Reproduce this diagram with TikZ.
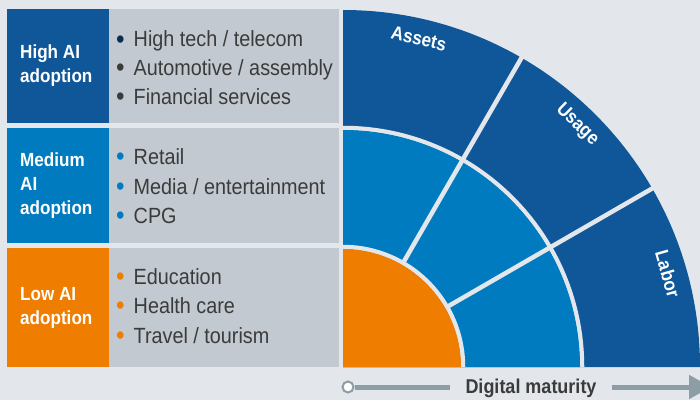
\documentclass[tikz,border=0pt]{standalone}
\usepackage{fontspec}
\setmainfont[FakeStretch=0.9]{Liberation Sans}
\usetikzlibrary{arrows.meta,positioning}

\definecolor{pagebg}{HTML}{E3E7EB}
\definecolor{listbg}{HTML}{C2C9D0}
\definecolor{hiblue}{HTML}{10579A}
\definecolor{midblue}{HTML}{007BC0}
\definecolor{loorange}{HTML}{EE7D00}
\definecolor{navy}{HTML}{0D2C54}
\definecolor{txtgray}{HTML}{3B3B3B}
\definecolor{axisgray}{HTML}{8C9DA5}

\newcommand{\bul}[1]{{\color{#1}\raisebox{-1.6pt}{\fontsize{27}{27}\selectfont\textbullet}}\hspace{9pt}}

\begin{document}
\begin{tikzpicture}[x=1pt,y=1pt,
  label/.style={anchor=west,align=left,text=white,font=\bfseries\fontsize{19}{24}\selectfont,inner sep=0pt},
  item/.style={anchor=base west,text=txtgray,font=\fontsize{22}{26}\selectfont,inner sep=0pt},
  ring/.style={text=white,font=\bfseries\fontsize{19}{22}\selectfont,inner sep=0pt},
  sep/.style={draw=pagebg,line width=4.5pt},
  axis/.style={draw=axisgray,line width=5pt}]
\useasboundingbox (0,0) rectangle (700,400);
\clip (0,0) rectangle (700,400);
\fill[pagebg] (0,0) rectangle (700,400);

% left table
\fill[hiblue]   (7,277) rectangle (109,391);
\fill[midblue]  (7,157) rectangle (109,272);
\fill[loorange] (7,33)  rectangle (109,152);
\fill[listbg] (109,277) rectangle (339,391);
\fill[listbg] (109,157) rectangle (339,272);
\fill[listbg] (109,33)  rectangle (339,152);

\node(high)[label] at (20,334) {High AI\\adoption};
\node(medium)[label] at (20,214) {Medium\\AI\\adoption};
\node(low)[label] at (20,92) {Low AI\\adoption};

\node(tech)[item] at (116,353) {\bul{navy}High tech / telecom};
\node(auto)[item] at (116,325) {\bul{txtgray}Automotive / assembly};
\node(fin)[item] at (116,296) {\bul{txtgray}Financial services};
\node(retail)[item] at (116,236) {\bul{midblue}Retail};
\node(media)[item] at (116,206) {\bul{midblue}Media / entertainment};
\node(cpg)[item] at (116,177) {\bul{midblue}CPG};
\node(edu)[item] at (116,116) {\bul{loorange}Education};
\node(health)[item] at (116,87) {\bul{loorange}Health care};
\node(travel)[item] at (116,57) {\bul{loorange}Travel / tourism};

% quarter circle
\coordinate (c) at (343,33);
\fill[hiblue] (c) -- ++(357pt,0) arc[start angle=0,end angle=90,radius=357pt] -- cycle;
\draw[sep] ([shift={(0:239pt)}]c) arc[start angle=0,end angle=90,radius=239pt];
\fill[midblue] (c) -- ++(237pt,0) arc[start angle=0,end angle=90,radius=237pt] -- cycle;
\draw[sep] ([shift={(30:118pt)}]c) -- ([shift={(30:362pt)}]c);
\draw[sep] ([shift={(60:118pt)}]c) -- ([shift={(60:362pt)}]c);
\draw[sep] ([shift={(0:120pt)}]c) arc[start angle=0,end angle=90,radius=120pt];
\fill[loorange] (c) -- ++(118pt,0) arc[start angle=0,end angle=90,radius=118pt] -- cycle;

\node(assets)[ring,rotate=-13] at ([shift={(77:337pt)}]c) {Assets};
\node(usage)[ring,rotate=-44] at ([shift={(46:337pt)}]c) {Usage};
\node(labor)[ring,rotate=-74] at ([shift={(16:338pt)}]c) {Labor};

% axis
\node(dm)[anchor=base,text=txtgray,font=\bfseries\fontsize{20}{24}\selectfont,inner xsep=15pt,inner ysep=0pt] at (531,7) {Digital maturity};
\node(start)[circle,draw=axisgray,fill=white,line width=2pt,minimum size=11pt,inner sep=0pt] at (348,13) {};
\coordinate (end) at (711,13);
\draw[axis] (start.east) -- (dm.west |- start);
\draw[axis,-{Triangle[length=22pt,width=23pt]}] (dm.east |- start) -- (end);
\end{tikzpicture}
\end{document}
